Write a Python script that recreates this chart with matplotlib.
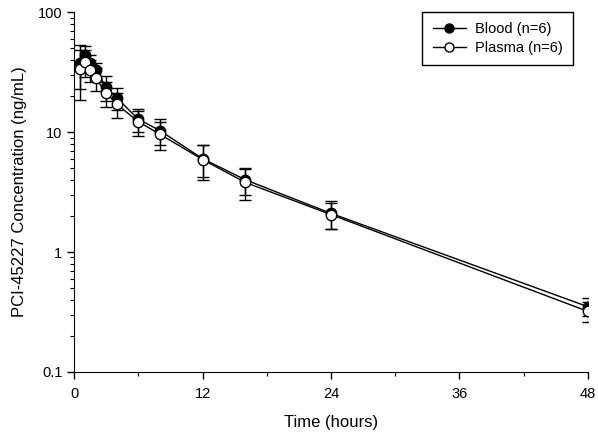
import matplotlib
matplotlib.use('Agg')
import matplotlib.pyplot as plt
from matplotlib.lines import Line2D
from matplotlib.ticker import FixedLocator, FixedFormatter, LogLocator, NullFormatter

plt.rcParams['font.family'] = ['Liberation Sans', 'DejaVu Sans']

# time points (hours)
time = [0.5, 1, 1.5, 2, 3, 4, 6, 8, 12, 16, 24, 48]

# mean and SD, ng/mL
blood_mean = [38, 44, 38, 33, 23.7, 19.2, 12.8, 10.3, 6.0, 4.0, 2.1, 0.35]
blood_sd = [15, 8, 6, 5, 5.5, 4, 2.8, 2.5, 1.8, 1.0, 0.55, 0.06]
plasma_mean = [33.5, 38.6, 33, 28.2, 21.1, 17, 12.2, 9.6, 5.9, 3.8, 2.05, 0.32]
plasma_sd = [15, 10, 7, 6, 5, 4, 2.9, 2.5, 1.9, 1.1, 0.5, 0.06]

fig = plt.figure(figsize=(5.98, 4.32), dpi=100)
ax = fig.add_axes([0.124, 0.139, 0.859, 0.833])

ax.errorbar(time, blood_mean, yerr=blood_sd, color='black', lw=1,
            marker='o', ms=7.5, mfc='black', mec='black', mew=1,
            capsize=4, elinewidth=1, capthick=1, zorder=3)
ax.errorbar(time, plasma_mean, yerr=plasma_sd, color='black', lw=1,
            marker='o', ms=7.5, mfc='white', mec='black', mew=1,
            capsize=4, elinewidth=1, capthick=1, zorder=4)

ax.set_yscale('log')
ax.set_ylim(0.1, 100)
ax.set_xlim(0, 48)
ax.yaxis.set_major_locator(FixedLocator([0.1, 1, 10, 100]))
ax.yaxis.set_major_formatter(FixedFormatter(['0.1', '1', '10', '100']))
ax.yaxis.set_minor_locator(LogLocator(base=10, subs=range(2, 10)))
ax.yaxis.set_minor_formatter(NullFormatter())
ax.set_xticks([0, 12, 24, 36, 48])
ax.set_xticks([6, 18, 30, 42], minor=True)

for s in ['top', 'right']:
    ax.spines[s].set_visible(False)
ax.tick_params(which='major', length=5, width=1, labelsize=10.5, colors='black')
ax.tick_params(which='minor', length=3, width=0.8)
ax.tick_params(axis='x', pad=6)

ax.set_xlabel('Time (hours)', fontsize=12, labelpad=10)
ax.set_ylabel('PCI-45227 Concentration (ng/mL)', fontsize=12, labelpad=8)

handles = [
    Line2D([], [], color='black', lw=1, marker='o', ms=6.5, mfc='black', mec='black'),
    Line2D([], [], color='black', lw=1, marker='o', ms=6.5, mfc='white', mec='black'),
]
leg = ax.legend(handles, ['Blood (n=6)', 'Plasma (n=6)'], loc='upper right',
                fontsize=10.5, fancybox=False, edgecolor='black', framealpha=1,
                handlelength=2.3, handletextpad=0.6, borderpad=0.7, labelspacing=0.3,
                borderaxespad=0, bbox_to_anchor=(0.971, 1.0))
leg.get_frame().set_linewidth(1)

fig.savefig('out.png', dpi=100)
